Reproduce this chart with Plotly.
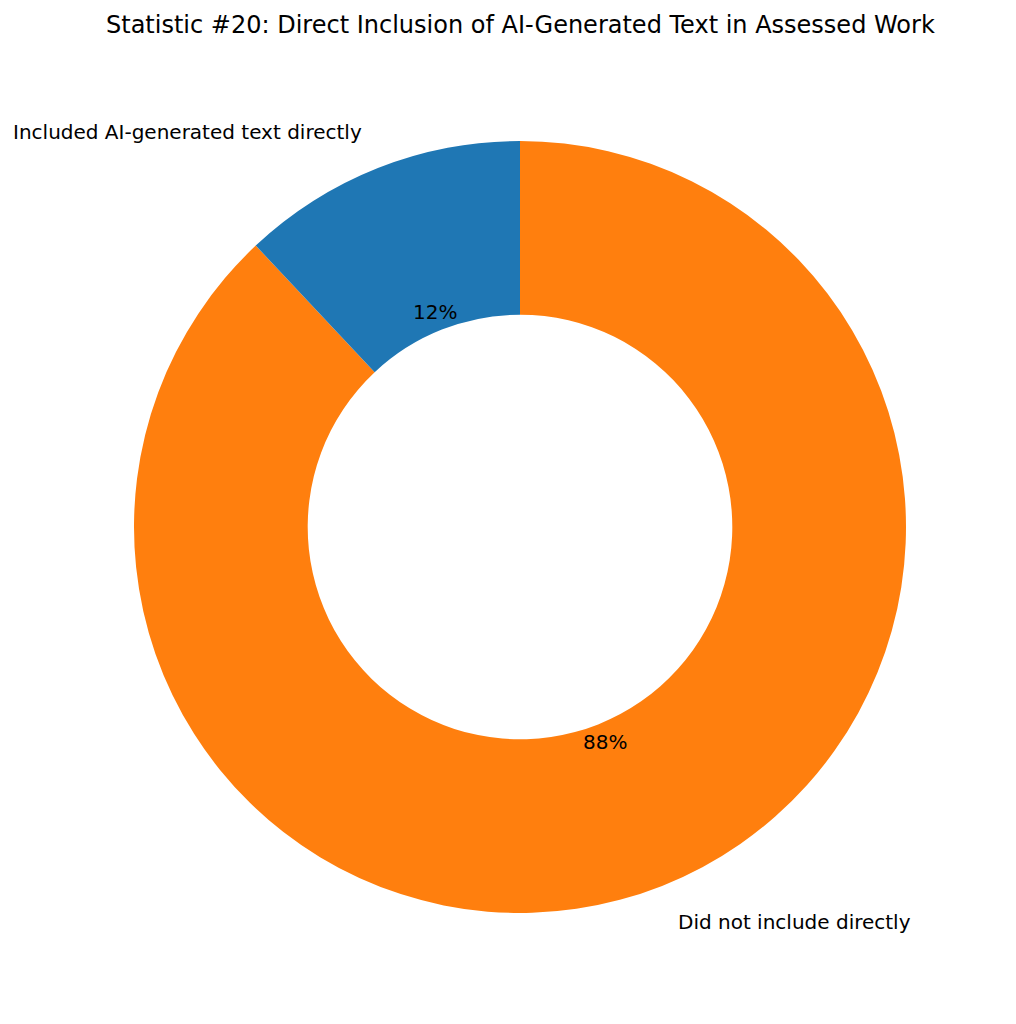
import math
import plotly.graph_objects as go

labels = ["Included AI-generated text directly", "Did not include directly"]
values = [12, 88]
colors = ["#1f77b4", "#ff7f0e"]
title_text = "Statistic #20: Direct Inclusion of AI-Generated Text in Assessed Work"

W, H = 1016, 1024
OFF = 8  # page body margin offset
cx, cy, R = 520 - OFF, 527 - OFF, 386  # pixel geometry of the donut
hole = 0.55

# Slices go counterclockwise from 12 o'clock (first slice on the left of top);
# achieved by drawing the reversed order clockwise from 12 o'clock.
fig = go.Figure(go.Pie(
    labels=labels[::-1], values=values[::-1], sort=False, direction="clockwise",
    rotation=0, hole=hole, textinfo="none", hoverinfo="label+percent",
    marker=dict(colors=colors[::-1], line=dict(width=0)),
    domain=dict(x=[(cx - R) / W, (cx + R) / W], y=[1 - (cy + R) / H, 1 - (cy - R) / H]),
    showlegend=False,
))

annotations = []
total = sum(values)
start = 90.0
for lab, v in zip(labels, values):
    span = 360.0 * v / total
    mid = math.radians(start + span / 2)
    start += span
    lx = cx + 1.1 * R * math.cos(mid)
    ly = cy - 1.1 * R * math.sin(mid)
    annotations.append(dict(
        x=lx / W, y=1 - ly / H, xref="paper", yref="paper", text=lab, showarrow=False,
        xanchor="right" if math.cos(mid) < 0 else "left", yanchor="middle",
        font=dict(family="DejaVu Sans", size=20, color="black"),
    ))
    px = cx + 0.6 * R * math.cos(mid)
    py = cy - 0.6 * R * math.sin(mid)
    annotations.append(dict(
        x=px / W, y=1 - py / H, xref="paper", yref="paper",
        text=f"{v / total * 100:.0f}%", showarrow=False,
        xanchor="center", yanchor="middle",
        font=dict(family="DejaVu Sans", size=20, color="black"),
    ))

annotations.append(dict(
    x=(520 - OFF) / W, y=1 - (25 - OFF) / H, xref="paper", yref="paper", text=title_text,
    showarrow=False, xanchor="center", yanchor="middle",
    font=dict(family="DejaVu Sans", size=24, color="black"),
))

fig.update_layout(
    width=W, height=H, margin=dict(l=0, r=0, t=0, b=0),
    paper_bgcolor="white", plot_bgcolor="white",
    annotations=annotations,
)

fig.write_html("out.html")
